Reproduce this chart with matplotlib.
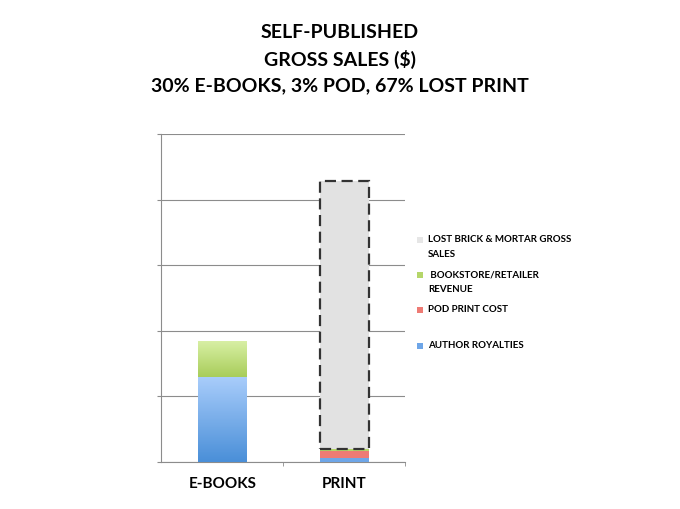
import matplotlib
matplotlib.use("Agg")
import matplotlib.pyplot as plt
import numpy as np
from matplotlib.colors import LinearSegmentedColormap
from matplotlib.patches import Rectangle

plt.rcParams['font.family'] = ['Lato', 'DejaVu Sans']

categories = ['E-BOOKS', 'PRINT']
author_royalties = [1.30, 0.06]
pod_print_cost = [0.0, 0.11]
retailer_revenue = [0.55, 0.03]
lost_print_sales = [0.0, 4.09]

legend_labels = ['LOST BRICK & MORTAR GROSS\nSALES', ' BOOKSTORE/RETAILER\nREVENUE',
                 'POD PRINT COST', 'AUTHOR ROYALTIES']
legend_colors = ['#e6e6e6', '#b5d66a', '#ee7b74', '#6ea6e8']

fig = plt.figure(figsize=(6.8, 5.1), dpi=100)
ax = fig.add_axes([0.237, 0.092, 0.359, 0.643])

x = np.arange(len(categories))
w = 0.4

def grad_bar(xc, bottom, height, top_col, bot_col):
    # bar with a vertical gradient, clipped to its rectangle
    rect = Rectangle((xc - w / 2, bottom), w, height, facecolor='none', edgecolor='none')
    ax.add_patch(rect)
    cmap = LinearSegmentedColormap.from_list('g', [bot_col, top_col])
    img = ax.imshow(np.linspace(0, 1, 100).reshape(-1, 1), cmap=cmap, origin='lower',
                    extent=[xc - w / 2, xc + w / 2, bottom, bottom + height],
                    aspect='auto', zorder=3)
    img.set_clip_path(rect)

# E-books bar (gradient fills)
grad_bar(x[0], 0, author_royalties[0], '#a9cdfb', '#4a8fd8')
grad_bar(x[0], author_royalties[0], retailer_revenue[0], '#d9f0a6', '#a8cd5a')

# print bar
b = np.array(author_royalties)
ax.bar(x[1], author_royalties[1], w, color='#6ea6e8', zorder=3)
ax.bar(x[1], pod_print_cost[1], w, bottom=b[1], color='#ee7b74', zorder=3)
b = b + np.array(pod_print_cost)
ax.bar(x[1], retailer_revenue[1], w, bottom=b[1], color='#b5d66a', zorder=3)
b = b + np.array(retailer_revenue)
ax.bar(x[1], lost_print_sales[1], w, bottom=b[1], facecolor='#e2e2e2', edgecolor='#333333',
       linewidth=1.6, linestyle=(0, (5, 2.5)), zorder=3)

ax.set_xlim(-0.5, 1.5)
ax.set_ylim(0, 5)
ax.set_yticks(np.arange(0, 6, 1))
ax.set_yticklabels([])
ax.yaxis.grid(True, color='#8c8c8c', linewidth=0.8)
ax.set_axisbelow(True)
ax.tick_params(axis='y', length=3, color='#8c8c8c')
ax.set_xticks([0.5, 1.5], minor=True)
ax.set_xticks(x)
ax.set_xticklabels(categories, fontsize=11, fontweight='bold')
ax.tick_params(axis='x', which='major', length=0, pad=10)
ax.tick_params(axis='x', which='minor', length=3, color='#8c8c8c')
for s in ['top', 'right']:
    ax.spines[s].set_visible(False)
for s in ['left', 'bottom']:
    ax.spines[s].set_color('#8c8c8c')
    ax.spines[s].set_linewidth(0.8)

fig.text(0.5, 1 - 59 / 510, 'SELF-PUBLISHED\nGROSS SALES ($)\n30% E-BOOKS, 3% POD, 67% LOST PRINT',
         ha='center', va='center', fontsize=14, fontweight='bold', linespacing=1.55)

# legend drawn by hand so the square sits by the first line
ys = [241, 276, 311, 347]
for lab, col, yp in zip(legend_labels, legend_colors, ys):
    fig.patches.append(Rectangle((417 / 680, 1 - (yp + 3) / 510), 6 / 680, 6 / 510,
                                 transform=fig.transFigure, facecolor=col, edgecolor='none'))
    fig.text(428 / 680, 1 - (yp - 6) / 510, lab, ha='left', va='top', fontsize=7,
             fontweight='bold', linespacing=1.8)

fig.savefig('out.png', dpi=100)
